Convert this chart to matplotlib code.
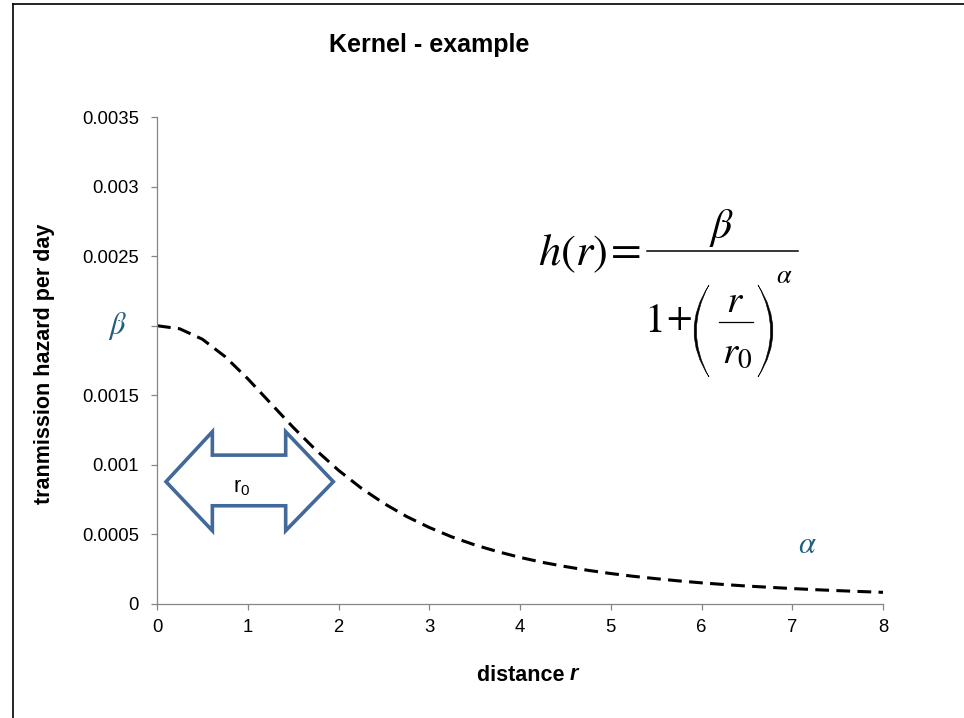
import matplotlib
matplotlib.use("Agg")
import matplotlib.pyplot as plt
import matplotlib.transforms as mtransforms
from matplotlib.patches import Polygon, PathPatch
from matplotlib.path import Path
from matplotlib.lines import Line2D

plt.rcParams['font.family'] = ['Liberation Sans', 'DejaVu Sans']
plt.rcParams['mathtext.fontset'] = 'stix'

# ---- data ----
distance = [0.0, 0.25, 0.5, 0.75, 1.0, 1.25, 1.5, 1.75, 2.0, 2.25, 2.5, 2.75,
            3.0, 3.25, 3.5, 3.75, 4.0, 4.25, 4.5, 4.75, 5.0, 5.25, 5.5, 5.75,
            6.0, 6.25, 6.5, 6.75, 7.0, 7.25, 7.5, 7.75, 8.0]
hazard = [0.002, 0.001978, 0.001903, 0.001778, 0.001619, 0.001444, 0.001270,
          0.001107, 0.000961, 0.000833, 0.000723, 0.000629, 0.000550, 0.000482,
          0.000425, 0.000377, 0.000335, 0.000299, 0.000269, 0.000242, 0.000219,
          0.000199, 0.000182, 0.000166, 0.000152, 0.000140, 0.000129, 0.000120,
          0.000111, 0.000103, 0.0000961, 0.0000897, 0.0000839]
x_ticks = [0, 1, 2, 3, 4, 5, 6, 7, 8]
y_ticks = [0, 0.0005, 0.001, 0.0015, 0.002, 0.0025, 0.003, 0.0035]
y_tick_labels = ['0', '0.0005', '0.001', '0.0015', '', '0.0025', '0.003', '0.0035']

W, H = 964, 718
fig = plt.figure(figsize=(W / 100, H / 100), dpi=100)
ax = fig.add_axes([157 / W, (H - 604) / H, 726 / W, 487 / H])

axis_gray = '#868686'
teal = '#1F5F84'
arrow_blue = '#43699A'

ax.plot(distance, hazard, color='black', lw=2.2, linestyle=(0, (4.5, 2.4)))

ax.set_xlim(0, 8)
ax.set_ylim(0, 0.0035)
ax.set_xticks(x_ticks)
ax.set_xticklabels([str(v) for v in x_ticks])
ax.set_yticks(y_ticks)
ax.set_yticklabels(y_tick_labels)
for s in ['top', 'right']:
    ax.spines[s].set_visible(False)
for s in ['left', 'bottom']:
    ax.spines[s].set_color(axis_gray)
    ax.spines[s].set_linewidth(0.9)
ax.tick_params(axis='both', direction='out', length=4, width=0.9,
               color=axis_gray, labelsize=13.3, labelcolor='black')
ax.tick_params(axis='x', pad=7)
ax.tick_params(axis='y', pad=9)

# axis labels
ax.set_ylabel('tranmission hazard per day', fontsize=15.5, fontweight='bold')
ax.yaxis.set_label_coords(-0.1405, 0.493)
ax.set_xlabel('distance ', fontsize=15.5, fontweight='bold')
ax.xaxis.set_label_coords(0.505, -0.146)
ax.xaxis.label.set_verticalalignment('center')
fig.text(574 / W, 1 - 675 / H, 'r', fontsize=15.5, fontweight='bold',
         fontstyle='italic', ha='center', va='center')

# beta label in place of the 0.002 tick label
trans = mtransforms.blended_transform_factory(ax.transAxes, ax.transData)
ax.text(-0.054, 0.002, r'$\beta$', transform=trans, ha='center', va='center',
        color=teal, fontsize=22)
# alpha label
ax.text(7.17, 0.000424, r'$\alpha$', ha='center', va='center',
        color=teal, fontsize=22)

# double-headed block arrow (r0)
xl, xhl, xhr, xr = 0.099, 0.61, 1.418, 1.943
ymid, yht, yhb, yst, ysb = 0.000879, 0.001238, 0.000527, 0.00107, 0.000706
arrow_pts = [(xl, ymid), (xhl, yht), (xhl, yst), (xhr, yst), (xhr, yht),
             (xr, ymid), (xhr, yhb), (xhr, ysb), (xhl, ysb), (xhl, yhb)]
ax.add_patch(Polygon(arrow_pts, closed=True, facecolor='none',
                     edgecolor=arrow_blue, lw=2.6, joinstyle='miter', zorder=3))
ax.text(0.93, 0.000845, r'r$_{\mathregular{0}}$', ha='center', va='center',
        fontsize=15.5)

# ---- formula, built from pieces in pixel coords (y measured from top) ----
def P(x, y):
    return (x / W, 1 - y / H)

pix = mtransforms.Affine2D().scale(1 / W, -1 / H).translate(0, 1) + fig.transFigure

def ftext(x, y, s, size, ha='left', **kw):
    fig.text(*P(x, y), s, fontsize=size, ha=ha, va='baseline', **kw)

ftext(538, 265, r'$h(r)$', 32)
ftext(611, 263, '=', 32, family='STIXGeneral')
fig.add_artist(Line2D([647 / W, 798 / W], [1 - 250.5 / H, 1 - 250.5 / H],
                      transform=fig.transFigure, color='black', lw=1.1))
ftext(722, 238, r'$\beta$', 30, ha='center')
ftext(655, 332, '1', 30, family='STIXGeneral', ha='center')
ftext(679, 329, '+', 27, family='STIXGeneral', ha='center')

def paren(x_end, x_bulge, y_top, y_bot, thick):
    ym = (y_top + y_bot) / 2
    c_out = 2 * x_bulge - x_end
    direction = 1 if x_end > x_bulge else -1
    c_in = c_out + 2 * thick * direction
    verts = [(x_end, y_top), (c_out, ym), (x_end, y_bot),
             (c_in, ym), (x_end, y_top), (x_end, y_top)]
    codes = [Path.MOVETO, Path.CURVE3, Path.CURVE3,
             Path.CURVE3, Path.CURVE3, Path.CLOSEPOLY]
    fig.add_artist(PathPatch(Path(verts, codes), transform=pix,
                             facecolor='black', edgecolor='black', lw=0.4))

paren(709, 694, 285, 377, 2.4)
paren(758, 773, 285, 377, 2.4)

ftext(735, 312, r'$r$', 28, ha='center')
fig.add_artist(Line2D([719 / W, 753 / W], [1 - 321.5 / H, 1 - 321.5 / H],
                      transform=fig.transFigure, color='black', lw=0.9))
ftext(737, 363, r'$r_0$', 28, ha='center')
ftext(784, 283, r'$\alpha$', 19, ha='center')

# title
fig.text(429 / W, 1 - 45 / H, 'Kernel - example', fontsize=18,
         fontweight='bold', ha='center', va='center')

# outer frame (left and top edges)
fx = 12.5 / W
fy = 1 - 3.5 / H
fig.add_artist(Line2D([fx, fx], [0, fy], transform=fig.transFigure,
                      color='black', lw=1.2))
fig.add_artist(Line2D([fx, 1], [fy, fy], transform=fig.transFigure,
                      color='black', lw=1.2))

fig.savefig('out.png', dpi=100)
